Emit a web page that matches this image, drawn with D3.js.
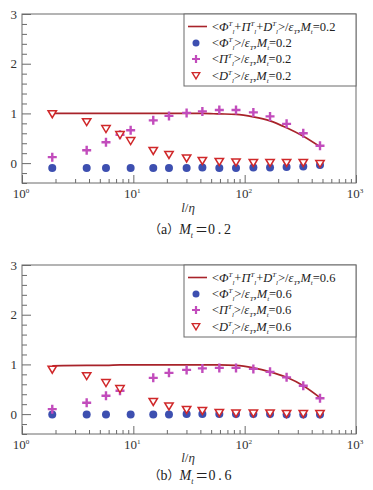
<!DOCTYPE html>
<html>
<head>
<meta charset="utf-8">
<script src="https://cdn.jsdelivr.net/npm/d3@7"></script>
<style>
  body { margin: 0; background: #fff; }
  svg { display: block; }
  text { font-family: "Liberation Serif", "Times New Roman", "DejaVu Serif", serif; }
</style>
</head>
<body>
<div id="chart"></div>
<script>
// scale l/eta (shared by both panels)
var lengths = [1.87, 3.81, 5.68, 7.59, 9.46, 15.1, 20.9, 30.1, 41.7, 59.2, 83.6, 119.7, 169, 238, 336, 475];

// (a) Mt = 0.2
var phiA = [-0.10, -0.10, -0.10, null, -0.10, -0.10, -0.10, -0.10, -0.09, -0.10, -0.10, -0.09, -0.09, -0.08, -0.07, -0.04];
var piA  = [0.12, 0.26, 0.42, 0.57, 0.66, 0.86, 0.95, 1.01, 1.04, 1.07, 1.07, 1.02, 0.94, 0.79, 0.60, 0.35];
var dA   = [0.99, 0.83, 0.69, 0.57, 0.45, 0.25, 0.17, 0.10, 0.05, 0.03, 0.02, 0.01, 0.01, 0.01, 0.01, -0.01];
var sumA = [1.00, 1.00, 1.00, 1.00, 1.00, 1.00, 1.00, 1.00, 1.00, 0.99, 0.98, 0.93, 0.85, 0.71, 0.54, 0.33];

// (b) Mt = 0.6
var phiB = [-0.01, -0.01, -0.01, null, -0.01, -0.01, -0.01, 0.00, 0.00, 0.00, 0.00, 0.00, 0.00, -0.01, -0.01, -0.01];
var piB  = [0.10, 0.23, 0.37, 0.47, null, 0.73, 0.83, 0.89, 0.92, 0.93, 0.93, 0.91, 0.85, 0.74, 0.57, 0.32];
var dB   = [0.90, 0.77, 0.63, 0.51, null, 0.25, 0.16, 0.09, 0.07, 0.03, 0.02, 0.02, 0.02, 0.01, 0.01, 0.01];
var sumB = [0.97, 0.98, 0.98, 0.99, 0.99, 0.99, 0.99, 0.99, 0.99, 0.99, 0.98, 0.93, 0.85, 0.74, 0.57, 0.33];

var xMajor = [1, 10, 100, 1000];
var yMajor = [0, 1, 2, 3];

var W = 373, H = 490;
var cLine = "#a8232a", cPhi = "#3d4fb0", cPi = "#c24cbc", cD = "#d0282a";
var cjk = "'Noto Sans CJK SC', sans-serif";

var svg = d3.select("#chart").append("svg")
    .attr("width", W)
    .attr("height", H);

// write a run of pieces into a text element; sh = 1 sup, -1 sub
function richText(sel, parts, size){
    var cur = 0;
    parts.forEach(function(p){
        var want = p.sh == 1 ? -size*0.4 : (p.sh == -1 ? size*0.25 : 0);
        var ts = sel.append("tspan")
            .attr("dy", want - cur)
            .style("font-size", (p.sh ? size*0.55 : (p.size || size)) + "px")
            .style("font-style", p.it ? "italic" : "normal")
            .text(p.t);
        if(p.font) ts.style("font-family", p.font);
        if(p.dx) ts.attr("dx", p.dx);
        cur = want;
    });
}

function legendParts(mt, which){
    var tl = [{t:"T", sh:1, it:true}, {t:"l", sh:-1, it:true}];
    var head;
    if(which == "sum"){
        head = [{t:"<"}, {t:"\u03A6", it:true}].concat(tl, [{t:"+"}, {t:"\u03A0", it:true}], tl,
            [{t:"+"}, {t:"D", it:true}], tl);
    }else if(which == "phi"){
        head = [{t:"<"}, {t:"\u03A6", it:true}].concat(tl);
    }else if(which == "pi"){
        head = [{t:"<"}, {t:"\u03A0", it:true}].concat(tl);
    }else{
        head = [{t:"<"}, {t:"D", it:true}].concat(tl);
    }
    return head.concat([{t:">/"}, {t:"\u03B5", it:true}, {t:"T", sh:-1, it:true},
        {t:","}, {t:"M", it:true}, {t:"t", sh:-1, it:true}, {t:"=" + mt}]);
}

function drawPanel(opt){
    var x = d3.scaleLog().domain([1, 1000]).range([22, 356]);
    var y = d3.scaleLinear().domain([-0.4, 3]).range([opt.bottom, opt.top]);
    var g = svg.append("g");

    // frame
    g.append("rect")
        .attr("x", x(1)).attr("y", y(3))
        .attr("width", x(1000) - x(1)).attr("height", y(-0.4) - y(3))
        .attr("fill", "none").attr("stroke", "#6a6a6a").attr("stroke-width", 1);

    // ticks, pointing inward
    var xMinor = [];
    [1, 10, 100].forEach(function(dec){
        for(var k = 2; k <= 9; k++) xMinor.push(dec*k);
    });
    var yMinor = d3.range(-0.4, 3.0001, 0.2).filter(function(v){
        return Math.abs(v - Math.round(v)) > 0.01;
    });

    g.append("g").attr("transform", "translate(0," + opt.bottom + ")")
        .call(d3.axisBottom(x).tickValues(xMinor).tickSize(-4).tickFormat("").tickSizeOuter(0));
    g.append("g").attr("transform", "translate(0," + opt.bottom + ")")
        .call(d3.axisBottom(x).tickValues(xMajor).tickSize(-8).tickFormat("").tickSizeOuter(0));
    g.append("g").attr("transform", "translate(" + x(1) + ",0)")
        .call(d3.axisLeft(y).tickValues(yMinor).tickSize(-5).tickFormat("").tickSizeOuter(0));
    g.append("g").attr("transform", "translate(" + x(1) + ",0)")
        .call(d3.axisLeft(y).tickValues(yMajor).tickSize(-9).tickFormat("").tickSizeOuter(0));
    g.selectAll(".domain").remove();
    g.selectAll(".tick line").attr("stroke", "#6a6a6a");

    // tick labels
    g.selectAll(".ylab").data(yMajor).enter().append("text")
        .attr("x", 17).attr("y", function(d){ return y(d) + 4.5; })
        .attr("text-anchor", "end")
        .style("font-size", "13px").attr("fill", "#333")
        .text(function(d){ return d; });

    xMajor.forEach(function(v){
        var t = g.append("text")
            .attr("x", x(v) - 1).attr("y", opt.bottom + 15)
            .attr("text-anchor", "middle")
            .attr("fill", "#333");
        richText(t, [{t:"10"}, {t:String(Math.round(Math.log10(v))), sh:1}], 13);
    });

    var xt = g.append("text")
        .attr("x", 188).attr("y", opt.labelY)
        .attr("text-anchor", "middle")
        .attr("fill", "#333");
    richText(xt, [{t:"l", it:true}, {t:"/"}, {t:"\u03B7", it:true}], 13);

    var cap = g.append("text")
        .attr("x", 190).attr("y", opt.capY)
        .attr("text-anchor", "middle")
        .attr("fill", "#222");
    richText(cap, [
        {t:"\uFF08", font: cjk, size: 12},
        {t:opt.tag, size: 14},
        {t:"\uFF09", font: cjk, size: 12},
        {t:"M", it:true, size: 14},
        {t:"t", sh:-1, it:true},
        {t:"\uFF1D", font: cjk, size: 13, dx: 2},
        {t:opt.mt.replace(".", " . ").replace(/ /g, "\u2009"), size: 14}
    ], 14);

    // sum line
    var pts = lengths.map(function(l, i){ return [l, opt.sum[i]]; });
    g.append("path")
        .datum(pts)
        .attr("fill", "none")
        .attr("stroke", cLine)
        .attr("stroke-width", 1.6)
        .attr("d", d3.line()
            .x(function(d){ return x(d[0]); })
            .y(function(d){ return y(d[1]); })
            .curve(d3.curveMonotoneX));

    // phi: filled circles
    g.selectAll(".phi").data(lengths.map(function(l, i){ return [l, opt.phi[i]]; })
            .filter(function(d){ return d[1] != null; }))
        .enter().append("circle")
            .attr("cx", function(d){ return x(d[0]); })
            .attr("cy", function(d){ return y(d[1]); })
            .attr("r", 4)
            .attr("fill", cPhi);

    // pi: plus
    var plus = "M-4.5,0H4.5M0,-4.5V4.5";
    g.selectAll(".pi").data(lengths.map(function(l, i){ return [l, opt.pi[i]]; })
            .filter(function(d){ return d[1] != null; }))
        .enter().append("path")
            .attr("transform", function(d){ return "translate(" + x(d[0]) + "," + y(d[1]) + ")"; })
            .attr("d", plus)
            .attr("stroke", cPi).attr("stroke-width", 2.4).attr("fill", "none");

    // D: open down-triangles
    var tri = "M-4.2,-3.2L4.2,-3.2L0,3.8Z";
    g.selectAll(".dd").data(lengths.map(function(l, i){ return [l, opt.d[i]]; })
            .filter(function(d){ return d[1] != null; }))
        .enter().append("path")
            .attr("transform", function(d){ return "translate(" + x(d[0]) + "," + y(d[1]) + ")"; })
            .attr("d", tri)
            .attr("stroke", cD).attr("stroke-width", 1.5).attr("fill", "#fff");

    // legend
    var lg = g.append("g").attr("transform", "translate(184," + opt.top + ")");
    lg.append("rect")
        .attr("width", 356 - 184).attr("height", 72)
        .attr("fill", "#fff").attr("stroke", "#6a6a6a").attr("stroke-width", 1);
    var rows = ["sum", "phi", "pi", "d"];
    var rowY = [12.5, 29, 45, 61.5];
    rows.forEach(function(r, i){
        var cy = rowY[i];
        if(r == "sum"){
            lg.append("line").attr("x1", 4).attr("x2", 23).attr("y1", cy).attr("y2", cy)
                .attr("stroke", cLine).attr("stroke-width", 1.6);
        }else if(r == "phi"){
            lg.append("circle").attr("cx", 12).attr("cy", cy).attr("r", 3.5).attr("fill", cPhi);
        }else if(r == "pi"){
            lg.append("path").attr("transform", "translate(12," + cy + ")").attr("d", "M-4,0H4M0,-4V4")
                .attr("stroke", cPi).attr("stroke-width", 2.2);
        }else{
            lg.append("path").attr("transform", "translate(12," + cy + ") scale(0.9)").attr("d", tri)
                .attr("stroke", cD).attr("stroke-width", 1.5).attr("fill", "#fff");
        }
        var t = lg.append("text")
            .attr("x", 28).attr("y", cy + 4)
            .attr("fill", "#222");
        richText(t, legendParts(opt.mt, r), 12.5);
    });
}

drawPanel({top: 14, bottom: 183, labelY: 212, capY: 234, mt: "0.2", tag: "a",
    phi: phiA, pi: piA, d: dA, sum: sumA});
drawPanel({top: 265, bottom: 434, labelY: 462, capY: 480, mt: "0.6", tag: "b",
    phi: phiB, pi: piB, d: dB, sum: sumB});
</script>
</body>
</html>
